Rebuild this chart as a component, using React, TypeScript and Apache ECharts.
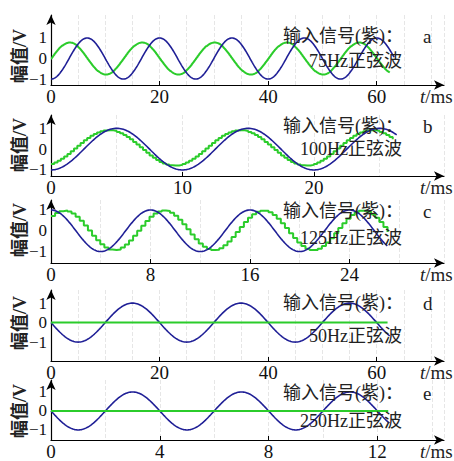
import React, { useEffect, useRef } from 'react';
import * as echarts from 'echarts';

// ---------- data ----------
const panelLetters = ['a', 'b', 'c', 'd', 'e'];
const inputLabel = '输入信号(紫)：';
const freqLabels = ['75Hz正弦波', '100Hz正弦波', '125Hz正弦波', '50Hz正弦波', '250Hz正弦波'];
const xTickStep = [20, 10, 8, 20, 4];
const xGridSplit = [4, 2, 2, 4, 2];
const xAxisMax = [72.4, 29.9, 31.6, 72.4, 14.45];
const yTickValues = [-1, 0, 1];
const yAxisMin = [-1.29, -1.29, -1.55, -1.97, -1.53];
const yAxisMax = [2.12, 1.64, 1.48, 1.67, 1.63];

// input (purple) sine: period (ms), phase (deg), end time (ms)
const inputPeriodMs = [40 / 3, 10, 8, 20, 4];
const inputPhaseDeg = [-90, -90, 90, 180, 180];
const inputEndMs = [63.3, 26.3, 27.1, 62.5, 12.45];
// output (green) staircase sine
const outputAmp = [0.78, 0.85, 0.95, 0, 0];
const outputOffset = [0, 0.06, 0.02, 0, 0];
const outputPhaseDeg = [0, -64.8, 47, 0, 0];
const outputEndMs = [62.5, 26.2, 27.1, 62.6, 12.45];
const outputHoldMs = [0.15, 0.25, 0.33, 1, 0.1];

// ---------- layout ----------
const GRID_LEFT = 51;
const GRID_RIGHT_EDGE = 444;
const gridTop = [15, 115, 200, 290, 380];
const gridBottom = [85, 176, 263, 361, 440];
const line1Y = [37, 127, 212, 304, 394];
const line2Y = [62, 150, 239, 337, 422];
const yNameY = [56, 145, 230, 323, 411];

const FONT = '"Liberation Serif", "Noto Sans CJK SC", serif';
const BLUE = '#1f1f96';
const GREEN = '#2bcc2b';

function inputSeries(i: number): number[][] {
  const T = inputPeriodMs[i];
  const ph = (inputPhaseDeg[i] * Math.PI) / 180;
  const pts: number[][] = [];
  const dt = T / 100;
  for (let t = 0; t <= inputEndMs[i] + 1e-9; t += dt) {
    pts.push([t, Math.sin((2 * Math.PI * t) / T + ph)]);
  }
  return pts;
}

function outputSeries(i: number): number[][] {
  const T = inputPeriodMs[i];
  const ph = (outputPhaseDeg[i] * Math.PI) / 180;
  const pts: number[][] = [];
  const dt = outputHoldMs[i];
  for (let t = 0; t <= outputEndMs[i] + 1e-9; t += dt) {
    pts.push([t, outputOffset[i] + outputAmp[i] * Math.sin((2 * Math.PI * t) / T + ph)]);
  }
  return pts;
}

export default function App() {
  const ref = useRef<HTMLDivElement>(null);
  useEffect(() => {
    if (!ref.current) return;
    const chart = echarts.init(ref.current, undefined, { renderer: 'svg' });
    const grids: any[] = [];
    const xAxes: any[] = [];
    const yAxes: any[] = [];
    const series: any[] = [];
    const graphics: any[] = [];
    for (let i = 0; i < 5; i++) {
      grids.push({
        left: GRID_LEFT,
        top: gridTop[i],
        width: GRID_RIGHT_EDGE - GRID_LEFT,
        height: gridBottom[i] - gridTop[i],
      });
      xAxes.push({
        type: 'value',
        gridIndex: i,
        min: 0,
        max: xAxisMax[i],
        interval: xTickStep[i],
        axisLine: {
          show: true,
          onZero: false,
          symbol: ['none', 'arrow'],
          symbolSize: [7, 10],
          lineStyle: { color: '#000', width: 1.2 },
        },
        axisTick: { show: true, inside: true, length: 4, lineStyle: { color: '#000' } },
        axisLabel: {
          show: true,
          showMaxLabel: false,
          margin: 2,
          fontSize: 19,
          color: '#111',
          fontFamily: FONT,
        },
        splitLine: { show: true, lineStyle: { color: '#e6e6e6', type: 'dashed', width: 1 } },
        minorTick: { show: false, splitNumber: xGridSplit[i] },
        minorSplitLine: { show: true, lineStyle: { color: '#e6e6e6', type: 'dashed', width: 1 } },
      });
      yAxes.push({
        type: 'value',
        gridIndex: i,
        min: yAxisMin[i],
        max: yAxisMax[i],
        axisLine: {
          show: true,
          onZero: false,
          symbol: ['none', 'arrow'],
          symbolSize: [7, 10],
          lineStyle: { color: '#000', width: 1.2 },
        },
        axisTick: { show: false },
        axisLabel: {
          show: true,
          customValues: yTickValues,
          margin: 4,
          fontSize: 17,
          lineHeight: 17,
          color: '#111',
          fontFamily: FONT,
          formatter: (v: number) => (v < 0 ? '\u2212' + String(-v) : String(v)),
        },
        splitLine: { show: false },
      });
      const green = {
        type: 'line',
        xAxisIndex: i,
        yAxisIndex: i,
        data: outputSeries(i),
        step: outputAmp[i] > 0 ? 'end' : false,
        showSymbol: false,
        lineStyle: { color: GREEN, width: 2 },
        z: i >= 3 ? 3 : 2,
      };
      const blue = {
        type: 'line',
        xAxisIndex: i,
        yAxisIndex: i,
        data: inputSeries(i),
        showSymbol: false,
        lineStyle: { color: BLUE, width: 1.6 },
        z: i >= 3 ? 2 : 3,
      };
      series.push(green, blue);

      graphics.push(
        {
          type: 'text',
          left: 283,
          top: line1Y[i] - 10,
          z: 100,
          style: { text: inputLabel, fontSize: 18, fontFamily: FONT, fill: '#222' },
        },
        {
          type: 'text',
          left: 423,
          top: line1Y[i] - 10,
          z: 100,
          style: { text: panelLetters[i], fontSize: 19, fontFamily: FONT, fill: '#222' },
        },
        {
          type: 'text',
          right: 454 - 402,
          top: line2Y[i] - 10,
          z: 100,
          style: { text: freqLabels[i], fontSize: 18, fontFamily: FONT, fill: '#222' },
        },
        {
          type: 'text',
          x: 20,
          y: yNameY[i],
          rotation: Math.PI / 2,
          z: 100,
          style: {
            text: '幅值/V',
            fontSize: 18,
            fontWeight: 'bold',
            fontFamily: FONT,
            fill: '#222',
            align: 'center',
            verticalAlign: 'middle',
          },
        },
        {
          type: 'text',
          left: 420,
          top: gridBottom[i] + 2,
          z: 100,
          style: {
            text: '{i|t}/ms',
            fontSize: 19,
            fontFamily: FONT,
            fill: '#222',
            rich: { i: { fontStyle: 'italic', fontSize: 19, fontFamily: FONT, fill: '#222' } },
          },
        }
      );
    }
    chart.setOption({
      animation: false,
      backgroundColor: '#fff',
      grid: grids,
      xAxis: xAxes,
      yAxis: yAxes,
      series,
      graphic: graphics,
    });
    return () => chart.dispose();
  }, []);
  return (
    <div
      ref={ref}
      style={{ position: 'absolute', left: 0, top: 0, width: 454, height: 461 }}
    />
  );
}
